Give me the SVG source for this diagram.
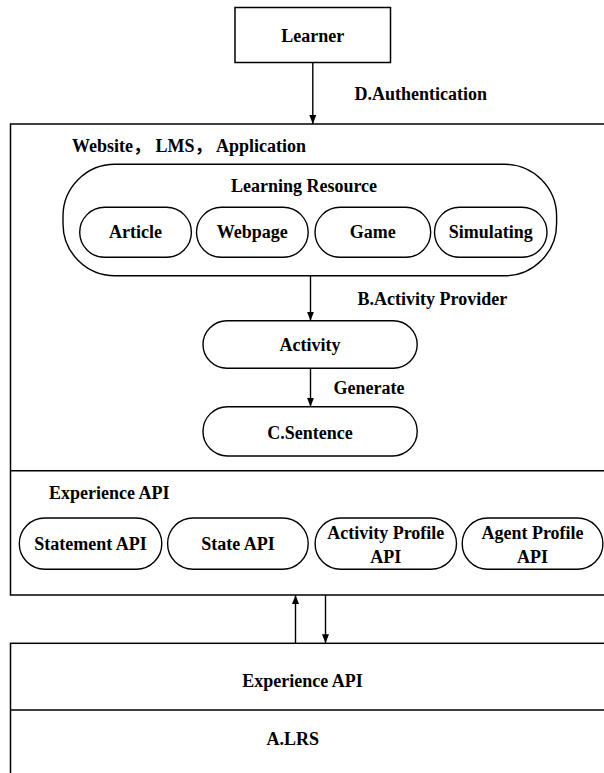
<svg xmlns="http://www.w3.org/2000/svg" width="604" height="773" viewBox="0 0 604 773">
<defs>
<marker id="ah" markerUnits="userSpaceOnUse" markerWidth="10" markerHeight="8" refX="9" refY="4" orient="auto">
<path d="M0,0.5 L9,4 L0,7.5 z" fill="#000"/>
</marker>
<style>
.box{fill:#fff;stroke:#000;stroke-width:1.5}
.pill{fill:#fff;stroke:#000;stroke-width:1.4}
.ln{stroke:#000;stroke-width:1.4;fill:none}
.conn{stroke:#000;stroke-width:1.4;fill:none;marker-end:url(#ah)}
text{font-family:"Liberation Serif","Times New Roman","Noto Sans CJK SC",serif;font-weight:bold;font-size:18px;fill:#000}
.c{text-anchor:middle}
</style>
</defs>
<rect width="604" height="773" fill="#fff"/>
<g id="learner">
<rect class="box" x="235" y="7.5" width="155.5" height="55"/>
<text class="c" x="312.8" y="42">Learner</text>
</g>
<g id="platform">
<rect class="box" x="10.5" y="124" width="620" height="471"/>
<line class="ln" x1="10.5" y1="470.7" x2="604" y2="470.7"/>
<text x="72" y="152">Website， LMS， Application</text>
<text x="49" y="499">Experience API</text>
</g>
<g id="learning-resource">
<rect class="pill" x="63" y="164.3" width="493.6" height="111.4" rx="52" ry="52"/>
<text class="c" x="304" y="192">Learning Resource</text>
</g>
<g id="article">
<rect class="pill" x="79.7" y="207.3" width="111.7" height="50" rx="25"/>
<text class="c" x="135.5" y="238">Article</text>
</g>
<g id="webpage">
<rect class="pill" x="196.5" y="207.3" width="111.7" height="50" rx="25"/>
<text class="c" x="252.3" y="238">Webpage</text>
</g>
<g id="game">
<rect class="pill" x="315" y="207.3" width="115.7" height="50" rx="25"/>
<text class="c" x="372.8" y="238">Game</text>
</g>
<g id="simulating">
<rect class="pill" x="434.5" y="207.3" width="112.5" height="50" rx="25"/>
<text class="c" x="490.7" y="238">Simulating</text>
</g>
<g id="activity">
<rect class="pill" x="203" y="320.7" width="214.2" height="47.6" rx="24"/>
<text class="c" x="310" y="351">Activity</text>
</g>
<g id="sentence">
<rect class="pill" x="203" y="406.7" width="214.2" height="49.3" rx="24.5"/>
<text class="c" x="310" y="439">C.Sentence</text>
</g>
<g id="statement-api">
<rect class="pill" x="19.3" y="518" width="142.5" height="51.3" rx="25.5"/>
<text class="c" x="90.5" y="550">Statement API</text>
</g>
<g id="state-api">
<rect class="pill" x="167.6" y="518" width="140.6" height="51.3" rx="25.5"/>
<text class="c" x="237.9" y="550">State API</text>
</g>
<g id="activity-profile-api">
<rect class="pill" x="315.1" y="518" width="141.4" height="51.3" rx="25.5"/>
<text class="c" x="385.8" y="539">Activity Profile</text>
<text class="c" x="385.8" y="563">API</text>
</g>
<g id="agent-profile-api">
<rect class="pill" x="462.2" y="518" width="140.7" height="51.3" rx="25.5"/>
<text class="c" x="532.5" y="539">Agent Profile</text>
<text class="c" x="532.5" y="563">API</text>
</g>
<g id="lrs">
<rect class="box" x="10.5" y="643.3" width="620" height="200"/>
<line class="ln" x1="10.5" y1="710" x2="604" y2="710"/>
<text class="c" x="302.4" y="687">Experience API</text>
<text class="c" x="292.8" y="745">A.LRS</text>
</g>
<g id="connectors">
<line class="conn" x1="312.8" y1="62.7" x2="312.8" y2="124"/>
<text x="354.4" y="100">D.Authentication</text>
<line class="conn" x1="310.5" y1="275.7" x2="310.5" y2="320.7"/>
<text x="357.5" y="305">B.Activity Provider</text>
<line class="conn" x1="310.5" y1="368.3" x2="310.5" y2="406.7"/>
<text x="333.6" y="394">Generate</text>
<line class="conn" x1="295.5" y1="643.3" x2="295.5" y2="595"/>
<line class="conn" x1="325.5" y1="595" x2="325.5" y2="643.3"/>
</g>
</svg>
